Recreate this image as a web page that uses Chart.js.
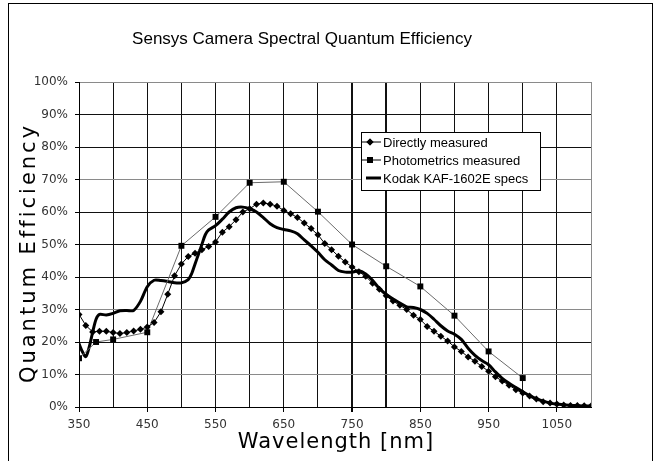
<!DOCTYPE html>
<html>
<head>
<meta charset="utf-8">
<script src="https://cdn.jsdelivr.net/npm/chart.js@4"></script>
<style>
  html, body { margin: 0; padding: 0; background: #fff; }
  #wrap { width: 659px; height: 461px; position: relative; }
</style>
</head>
<body>
<div id="wrap"><canvas id="qe"></canvas></div>
<script>
// Directly measured (every 10 nm)
const directWl = [350, 360, 370, 380, 390, 400, 410, 420, 430, 440, 450, 460, 470, 480, 490, 500, 510, 520, 530, 540,
  550, 560, 570, 580, 590, 600, 610, 620, 630, 640, 650, 660, 670, 680, 690, 700, 710, 720, 730, 740,
  750, 760, 770, 780, 790, 800, 810, 820, 830, 840, 850, 860, 870, 880, 890, 900, 910, 920, 930, 940,
  950, 960, 970, 980, 990, 1000, 1010, 1020, 1030, 1040, 1050, 1060, 1070, 1080, 1090, 1100];
const directQE = [28.5, 25.1, 23.1, 23.3, 23.3, 22.9, 22.6, 22.9, 23.4, 23.9, 24.6, 26, 29.3, 34.7, 40.4, 44, 46.3, 47.3, 48.4, 49.4,
  50.8, 53.8, 55.5, 57.6, 60, 61, 62.4, 62.8, 62.4, 61.8, 60.5, 59.5, 58.3, 56.6, 54.9, 53, 50.3, 48.4, 46.4, 44.6,
  43.1, 41.6, 40.2, 38.1, 36.2, 34.2, 32.6, 31.3, 30, 28.2, 26.9, 24.8, 23.3, 21.8, 20.3, 18.5, 17.1, 15.4, 14.1, 12.5,
  11, 9.3, 8, 6.7, 5.3, 4.3, 3.4, 2.5, 1.6, 1.2, 0.9, 0.6, 0.5, 0.5, 0.4, 0.3];

// Photometrics measured
const photoWl = [350, 375, 400, 450, 500, 550, 600, 650, 700, 750, 800, 850, 900, 950, 1000];
const photoQE = [15, 20, 20.8, 23, 49.6, 58.5, 69, 69.3, 60.1, 50, 43.3, 37.1, 28.1, 17.1, 8.9];

// Kodak KAF-1602E spec sheet curve
const kodakWl = [350, 355, 360, 365, 370, 375, 380, 390, 400, 410, 420, 430, 440, 450, 460, 470, 480, 490, 500, 510,
  515, 520, 525, 530, 535, 540, 550, 560, 570, 580, 590, 600, 610, 620, 630, 640, 650, 660, 670, 680,
  690, 700, 710, 720, 730, 740, 750, 760, 770, 780, 790, 800, 810, 820, 830, 840, 850, 860, 870, 880,
  890, 900, 910, 920, 930, 940, 950, 960, 970, 980, 990, 1000, 1010, 1020, 1030, 1040, 1050, 1060, 1070, 1080,
  1090, 1100];
const kodakQE = [19.5, 17, 15.5, 18.5, 23, 27, 28.5, 28.3, 28.8, 29.6, 29.7, 29.7, 32.5, 37, 39, 38.9, 38.6, 38.2, 38.2, 39.2,
  41, 44, 47, 50, 53, 54.5, 55.8, 57.8, 60, 61.3, 61.5, 61, 60, 58.3, 56.4, 55.2, 54.6, 54.2, 53.3, 51.4,
  49.6, 47.6, 45.3, 43.7, 42, 41.5, 41.5, 41.9, 40.9, 39, 36.5, 34.6, 33.2, 32, 30.8, 30.6, 30, 28.8, 27, 25,
  23.4, 22.4, 20.8, 18.1, 15.9, 14.3, 13, 10.8, 8.8, 7.3, 6, 4.7, 3.5, 2.5, 1.8, 1.2, 0.9, 0.7, 0.5, 0.4,
  0.3, 0.3];

const seriesNames = ['Directly measured', 'Photometrics measured', 'Kodak KAF-1602E specs'];
const xTickLabels = [350, 450, 550, 650, 750, 850, 950, 1050];

const toPoints = (xs, ys) => xs.map((x, i) => ({ x: x, y: ys[i] }));

// Outer frame, title, axis titles and legend box
const decorPlugin = {
  id: 'decor',
  afterDraw(chart) {
    const ctx = chart.ctx;
    ctx.save();
    ctx.strokeStyle = '#000';
    ctx.lineWidth = 1;
    ctx.strokeRect(8.5, 3.5, 644, 470);

    ctx.fillStyle = '#000';
    ctx.textAlign = 'center';
    ctx.textBaseline = 'alphabetic';
    ctx.font = '17px "Liberation Sans"';
    ctx.fillText('Sensys Camera Spectral Quantum Efficiency', 302, 44);

    ctx.font = '21px "DejaVu Sans"';
    ctx.letterSpacing = '1px';
    ctx.fillText('Wavelength [nm]', 336, 448);

    ctx.save();
    ctx.translate(35, 253);
    ctx.rotate(-Math.PI / 2);
    ctx.letterSpacing = '3px';
    ctx.fillText('Quantum Efficiency', 0, 0);
    ctx.restore();
    ctx.letterSpacing = '0px';

    // legend
    const lx = 361, ly = 132, lw = 179, lh = 58;
    ctx.fillStyle = '#fff';
    ctx.fillRect(lx, ly, lw, lh);
    ctx.strokeStyle = '#000';
    ctx.strokeRect(lx + 0.5, ly + 0.5, lw, lh);
    ctx.font = '13px "Liberation Sans"';
    ctx.textAlign = 'left';
    ctx.textBaseline = 'middle';
    chart.data.datasets.forEach((ds, i) => {
      const yy = ly + 10 + i * 18;
      ctx.strokeStyle = '#000';
      ctx.lineWidth = ds.borderWidth;
      ctx.beginPath();
      ctx.moveTo(i === 2 ? 366 : 362, yy);
      ctx.lineTo(381, yy);
      ctx.stroke();
      if (ds.pointRadius > 0) {
        ctx.fillStyle = '#000';
        Chart.helpers.drawPoint(ctx, { pointStyle: ds.pointStyle, radius: ds.pointRadius, rotation: 0, borderWidth: 0 }, 370, yy);
        ctx.fill();
      }
      ctx.fillStyle = '#000';
      ctx.fillText(ds.label, 383, yy + 1);
    });
    ctx.restore();
  }
};

new Chart(document.getElementById('qe'), {
  type: 'line',
  data: {
    datasets: [
      {
        label: seriesNames[0],
        data: toPoints(directWl, directQE),
        borderColor: '#000',
        borderWidth: 1,
        pointStyle: 'rectRot',
        pointRadius: 3.5,
        pointBackgroundColor: '#000',
        pointBorderWidth: 0,
        tension: 0
      },
      {
        label: seriesNames[1],
        data: toPoints(photoWl, photoQE),
        borderColor: '#6a6a6a',
        borderWidth: 1,
        pointStyle: 'rect',
        pointRadius: 4.2,
        pointBackgroundColor: '#000',
        pointBorderWidth: 0,
        tension: 0
      },
      {
        label: seriesNames[2],
        data: toPoints(kodakWl, kodakQE),
        borderColor: '#000',
        borderWidth: 3,
        pointRadius: 0,
        tension: 0.3
      }
    ]
  },
  options: {
    responsive: true,
    maintainAspectRatio: false,
    animation: false,
    events: [],
    layout: { padding: { top: 82, right: 68, bottom: 0, left: 0 } },
    plugins: {
      legend: { display: false },
      title: { display: false },
      tooltip: { enabled: false }
    },
    scales: {
      x: {
        type: 'linear',
        min: 350,
        max: 1100,
        afterFit: (s) => { s.height = 54; },
        afterBuildTicks: (s) => {
          s.ticks = [];
          for (let v = 350; v <= 1100; v += 50) s.ticks.push({ value: v });
        },
        ticks: {
          autoSkip: false,
          maxRotation: 0,
          padding: 6,
          color: '#333',
          font: { family: 'DejaVu Sans', size: 12 },
          callback: (v) => (xTickLabels.includes(v) ? String(v) : '')
        },
        grid: {
          color: (c) => (c.tick && c.tick.value === 1100 ? '#8a8a8a' : '#111'),
          lineWidth: (c) => (c.tick && (c.tick.value === 750 || c.tick.value === 800) ? 2 : 1),
          tickColor: (c) => (c.tick && xTickLabels.includes(c.tick.value) ? '#000' : 'rgba(0,0,0,0)'),
          tickLength: 5
        },
        border: { color: '#000', width: 1 }
      },
      y: {
        min: 0,
        max: 100,
        afterFit: (s) => { s.width = 79; },
        ticks: {
          stepSize: 10,
          padding: 7,
          color: '#333',
          font: { family: 'DejaVu Sans', size: 12 },
          callback: (v) => v + '%'
        },
        grid: {
          color: (c) => (c.tick && [100, 70, 30, 10].includes(c.tick.value) ? '#8a8a8a' : '#111'),
          tickColor: '#000',
          tickLength: 4
        },
        border: { color: '#000', width: 1 }
      }
    }
  },
  plugins: [decorPlugin]
});
</script>
</body>
</html>
